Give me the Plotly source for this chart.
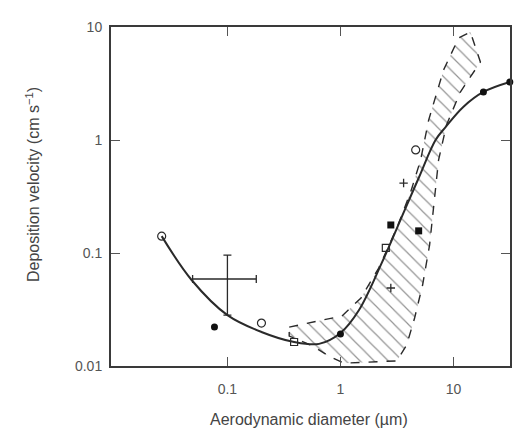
import plotly.graph_objects as go

# Fitted deposition-velocity curve (diameter in µm, velocity in cm/s)
curve_d = [0.0262, 0.0482, 0.1, 0.2, 0.389, 0.647, 1.0, 1.46, 2.32, 3.70, 4.92, 6.94, 8.51, 12.2, 18.4, 31.5]
curve_v = [0.141, 0.0577, 0.0282, 0.0200, 0.0163, 0.0157, 0.0196, 0.0313, 0.0817, 0.240, 0.461, 1.0, 1.30, 1.96, 2.66, 3.26]

# Outline of the hatched range of model predictions
band_d = [0.352, 1.03, 1.52, 2.18, 3.15, 4.18, 5.12, 6.03, 8.17, 11.1, 14.1,
          17.3, 11.5, 8.67, 7.38, 6.81, 6.15, 5.33, 4.53, 3.85, 3.15,
          1.07, 0.792, 0.573, 0.397, 0.352, 0.352]
band_v = [0.0221, 0.0277, 0.040, 0.0736, 0.166, 0.347, 0.665, 1.50, 4.16, 8.0, 9.03,
          4.90, 2.66, 1.36, 0.665, 0.294, 0.118, 0.0521, 0.0266, 0.0153, 0.0111,
          0.0106, 0.0122, 0.0150, 0.0173, 0.0184, 0.0221]

# Measurements
open_circle_d = [0.0262, 0.20, 4.63]
open_circle_v = [0.141, 0.024, 0.817]
open_square_d = [0.389, 2.52]
open_square_v = [0.0163, 0.111]
filled_circle_d = [0.0768, 1.0, 18.4, 31.5]
filled_circle_v = [0.0221, 0.0192, 2.66, 3.26]
filled_square_d = [2.79, 4.92]
filled_square_v = [0.177, 0.157]
plus_d = [3.62, 2.79]
plus_v = [0.416, 0.049]

# Point with uncertainty range
err_d = [0.1]
err_v = [0.0589]
err_d_plus = [0.080]
err_d_minus = [0.0508]
err_v_plus = [0.037]
err_v_minus = [0.0307]

ink = "#2a2a2a"

fig = go.Figure()

fig.add_trace(go.Scatter(
    x=band_d, y=band_v, mode="lines", fill="toself",
    line=dict(color=ink, width=1.4, dash="dash"),
    fillcolor="white",
    fillpattern=dict(shape="\\", size=10, solidity=0.12, fgcolor=ink, bgcolor="white"),
    hoverinfo="skip", showlegend=False,
))

fig.add_trace(go.Scatter(
    x=curve_d, y=curve_v, mode="lines", line=dict(color=ink, width=2, shape="spline", smoothing=1.0),
    showlegend=False,
))

fig.add_trace(go.Scatter(
    x=err_d, y=err_v, mode="markers", marker=dict(size=1, color=ink),
    error_x=dict(type="data", symmetric=False, array=err_d_plus, arrayminus=err_d_minus,
                 color=ink, thickness=1.3, width=4),
    error_y=dict(type="data", symmetric=False, array=err_v_plus, arrayminus=err_v_minus,
                 color=ink, thickness=1.3, width=4),
    showlegend=False,
))

fig.add_trace(go.Scatter(
    x=open_circle_d, y=open_circle_v, mode="markers",
    marker=dict(symbol="circle-open", size=8, color=ink, line=dict(width=1.2)),
    showlegend=False,
))
fig.add_trace(go.Scatter(
    x=open_square_d, y=open_square_v, mode="markers",
    marker=dict(symbol="square-open", size=7, color=ink, line=dict(width=1.2)),
    showlegend=False,
))
fig.add_trace(go.Scatter(
    x=filled_circle_d, y=filled_circle_v, mode="markers",
    marker=dict(symbol="circle", size=7, color="#111"),
    cliponaxis=False, showlegend=False,
))
fig.add_trace(go.Scatter(
    x=filled_square_d, y=filled_square_v, mode="markers",
    marker=dict(symbol="square", size=7, color="#111"),
    showlegend=False,
))
fig.add_trace(go.Scatter(
    x=plus_d, y=plus_v, mode="markers",
    marker=dict(symbol="cross-thin", size=6, color=ink, line=dict(width=1.3, color=ink)),
    showlegend=False,
))

axis_common = dict(
    type="log", showgrid=False, zeroline=False,
    showline=True, linecolor="#3a3a3a", linewidth=2, mirror="ticks",
    ticks="inside", ticklen=9, tickwidth=1.3, tickcolor="#555",
    tickfont=dict(family="Liberation Sans, Arial, sans-serif", size=14, color="#555"),
)

fig.update_xaxes(range=[-2.03, 1.50], tickvals=[0.1, 1, 10], ticktext=["0.1", "1", "10"],
                 ticklabelstandoff=9, **axis_common)
fig.update_yaxes(range=[-2, 1], tickvals=[0.01, 0.1, 1, 10], ticktext=["0.01", "0.1", "1", "10"],
                 ticklabelstandoff=4, **axis_common)

title_font = dict(family="Liberation Sans, Arial, sans-serif", size=16, color="#444")
fig.add_annotation(text="Aerodynamic diameter (µm)", xref="paper", yref="paper",
                   x=0.495, y=-0.159, xanchor="center", yanchor="middle",
                   showarrow=False, font=title_font)
fig.add_annotation(text="Deposition velocity (cm s<sup>−1</sup>)", xref="paper", yref="paper",
                   x=-0.197, y=0.535, xanchor="center", yanchor="middle", textangle=-90,
                   showarrow=False, font=title_font)

fig.update_layout(
    width=515, height=428,
    margin=dict(l=111, r=3, t=27, b=62),
    paper_bgcolor="white", plot_bgcolor="white",
)

fig.write_html("out.html")
